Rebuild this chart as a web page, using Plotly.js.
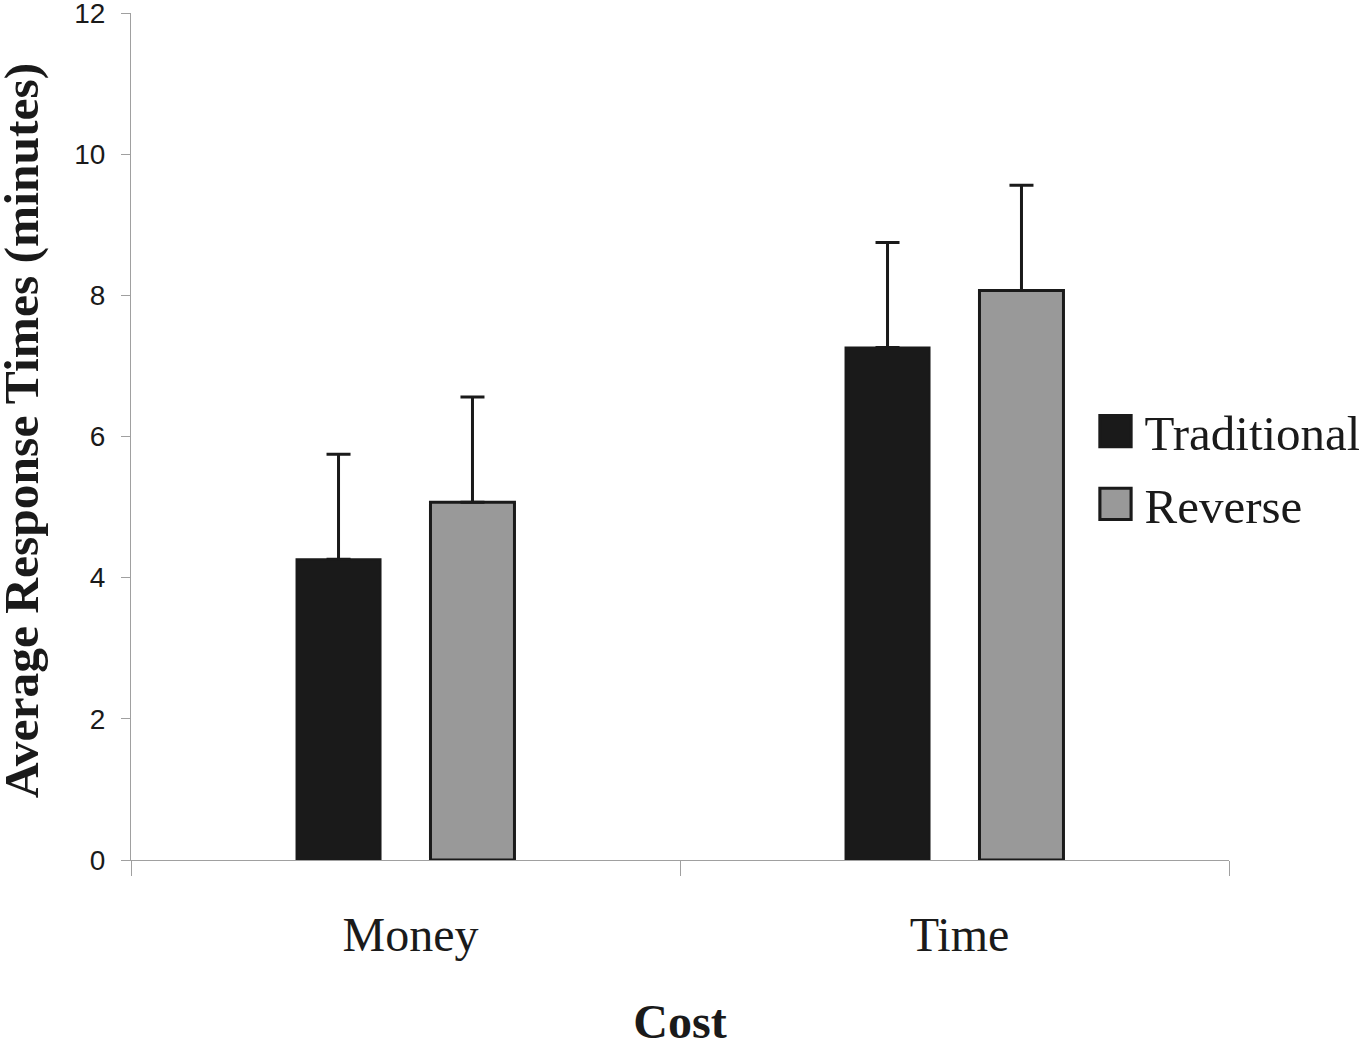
<!DOCTYPE html>
<html>
<head>
<meta charset="utf-8">
<script src="https://cdn.plot.ly/plotly-3.0.1.min.js"></script>
<style>html,body{margin:0;padding:0;background:#fff;}</style>
</head>
<body>
<div id="chart" style="width:1359px;height:1040px;"></div>
<script>
var categories = ["Money", "Time"];
var seriesNames = ["Traditional", "Reverse"];
var traditional = [4.26, 7.26];
var reverse = [5.07, 8.07];
var traditionalErr = [1.49, 1.49];
var reverseErr = [1.49, 1.49];
var yTicks = [0, 2, 4, 6, 8, 10, 12];

var traces = [
  {
    type: "bar", name: seriesNames[0], legendgroup: "g1", x: categories, y: traditional,
    marker: {color: "#1a1a1a", line: {color: "#1a1a1a", width: 2}},
    error_y: {type: "data", array: traditionalErr, symmetric: false, arrayminus: [0, 0], color: "#1a1a1a", thickness: 3, width: 12}
  },
  {
    type: "bar", name: seriesNames[1], legendgroup: "g2", x: categories, y: reverse,
    marker: {color: "#999999", line: {color: "#1a1a1a", width: 3}},
    error_y: {type: "data", array: reverseErr, symmetric: false, arrayminus: [0, 0], color: "#1a1a1a", thickness: 3, width: 12}
  }
];

var layout = {
  width: 1359, height: 1040,
  margin: {l: 131, r: 130, t: 13, b: 180, autoexpand: false},
  paper_bgcolor: "#ffffff", plot_bgcolor: "#ffffff",
  barmode: "group", bargap: 0.512, bargroupgap: 0.373,
  showlegend: true,
  legend: {x: 0.8866, xanchor: "left", y: 0.463, yanchor: "middle",
           font: {family: "Liberation Serif, Times New Roman, serif", size: 49, color: "#1a1a1a"},
           traceorder: "grouped", tracegroupgap: 6, itemwidth: 30, bgcolor: "rgba(0,0,0,0)"},
  xaxis: {
    type: "category", showline: true, linecolor: "#a0a0a0", linewidth: 1,
    ticks: "outside", ticklen: 15, tickcolor: "#a0a0a0", tickson: "boundaries",
    showgrid: false, zeroline: false, automargin: false,
    tickfont: {family: "Liberation Serif, Times New Roman, serif", size: 48, color: "#1a1a1a"},
    ticklabelstandoff: 32, ticklabelshift: 5,
    title: {text: "<b>Cost</b>", font: {family: "Liberation Serif, Times New Roman, serif", size: 48, color: "#1a1a1a"}, standoff: 48}
  },
  yaxis: {
    range: [0, 12], tickvals: yTicks, ticktext: yTicks.map(String),
    showline: true, linecolor: "#a0a0a0", linewidth: 1,
    ticks: "outside", ticklen: 9, tickcolor: "#a0a0a0", ticklabeloverflow: "allow",
    showgrid: false, zeroline: false, automargin: false,
    tickfont: {family: "Liberation Sans, Arial, sans-serif", size: 28, color: "#1a1a1a"},
    ticklabelstandoff: 10,
    title: {text: "<b>Average Response Times (minutes)</b>", font: {family: "Liberation Serif, Times New Roman, serif", size: 49.5, color: "#1a1a1a"}, standoff: 26}
  }
};

Plotly.newPlot("chart", traces, layout, {displayModeBar: false, staticPlot: true}).then(function () {
  var sb = document.querySelectorAll(".legend .scrollbox, .legend");
  sb.forEach(function (el) { el.removeAttribute("clip-path"); });
  var pts = document.querySelectorAll(".legend .legendpoints path");
  pts.forEach(function (p) {
    p.setAttribute("transform", "translate(11,0) scale(2.6)");
    p.style.strokeWidth = "1.2px";
  });
  var xt = document.querySelector(".xtitle");
  if (xt) {
    var t0 = xt.getAttribute("transform") || "";
    xt.setAttribute("transform", "translate(0,8) " + t0);
  }
  var yt = document.querySelector(".ytitle");
  if (yt) {
    var t1 = yt.getAttribute("transform") || "";
    yt.setAttribute("transform", "translate(-6,-6) " + t1);
  }
});
</script>
</body>
</html>
